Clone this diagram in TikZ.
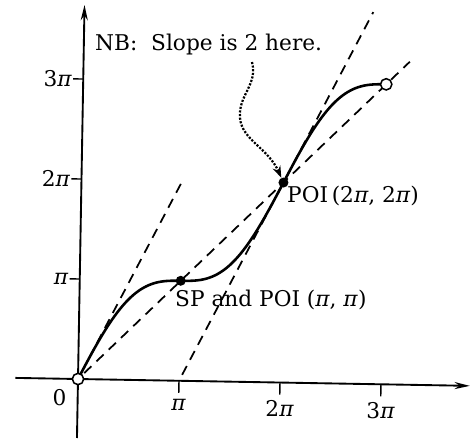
\documentclass[tikz,border=0pt]{standalone}
\usepackage{fontspec}
\setmainfont{DejaVu Serif}
\usetikzlibrary{arrows.meta}
\begin{document}
\begin{tikzpicture}[x=0.03cm,y=-0.03cm,
  lbl/.style={font=\fontsize{18.5}{21}\selectfont, inner sep=0pt},
  axisline/.style={line width=1.6pt, -{Stealth[length=13pt,width=6pt]}},
  curveline/.style={line width=2.2pt},
  dashline/.style={line width=1.5pt, dash pattern=on 8.5pt off 6pt},
  tickline/.style={line width=1.2pt},
  dotpt/.style={circle, fill, inner sep=0pt, minimum size=0.3cm},
  opendot/.style={circle, draw, fill=white, line width=1.3pt, inner sep=0pt, minimum size=0.34cm},
  dotarrow/.style={line width=1.9pt, dash pattern=on 1.8pt off 1.3pt, -{Stealth[length=10pt,width=7pt]}}]
\useasboundingbox (0,0) rectangle (472,440);
\begin{scope}[shift={(78,379)}, rotate=-1, x=3.03cm, y=3.0cm]
  \coordinate (xs) at (-0.62,0);
  \coordinate (xe) at (3.88,0);
  \coordinate (ys) at (0,-0.59);
  \coordinate (ye) at (0,3.74);
  \draw[axisline] (xs) -- (xe);
  \draw[axisline] (ys) -- (ye);
  % ticks
  \foreach \k/\t in {1/{\textit{π}},2/{2\textit{π}},3/{3\textit{π}}}{
    \coordinate (xt\k) at (\k,0);
    \coordinate (xb\k) at (\k,-0.12);
    \draw[tickline] (xt\k) -- (xb\k);
    \node[lbl, anchor=north] (xl\k) at (\k,-0.18) {\t};
    \coordinate (yt\k) at (0,\k);
    \coordinate (yb\k) at (-0.1,\k);
    \draw[tickline] (yt\k) -- (yb\k);
    \node[lbl, anchor=east] (yl\k) at (-0.11,\k) {\t};
  }
  \node[lbl] (zero) at (-0.18,-0.19) {0};
  % dashed lines
  \coordinate (d1s) at (0.06,0.06);
  \coordinate (d1e) at (3.23,3.23);
  \draw[dashline] (d1s) -- (d1e);
  \coordinate (d2s) at (0.03,0.06);
  \coordinate (d2e) at (1.0,2.0);
  \draw[dashline] (d2s) -- (d2e);
  \coordinate (d3s) at (1.03,0.06);
  \coordinate (d3e) at (2.86,3.72);
  \draw[dashline] (d3s) -- (d3e);
  % curve y = x + sin x
  \draw[curveline] plot[domain=0:3, samples=120, smooth] (\x, {\x + sin(180*\x)/pi});
  % points
  \node[opendot] (o) at (0,0) {};
  \node[opendot] (e) at (3,3) {};
  \node[dotpt] (sp) at (1,1) {};
  \node[dotpt] (poi) at (2,2) {};
\end{scope}
% labels
\node[lbl, anchor=base west] (nb) at (95,50) {NB:\ \ Slope is 2 here.};
\node[lbl, anchor=base west] (poilbl) at (287,202) {POI\,(2\textit{π}, 2\textit{π})};
\node[lbl, anchor=base west] (splbl) at (175,306) {SP and POI (\textit{π}, \textit{π})};
\coordinate (as) at (252,62);
\draw[dotarrow] (as) .. controls (258,85) and (238,95) .. (240,118) .. controls (242,140) and (268,148) .. (poi);
\end{tikzpicture}
\end{document}
